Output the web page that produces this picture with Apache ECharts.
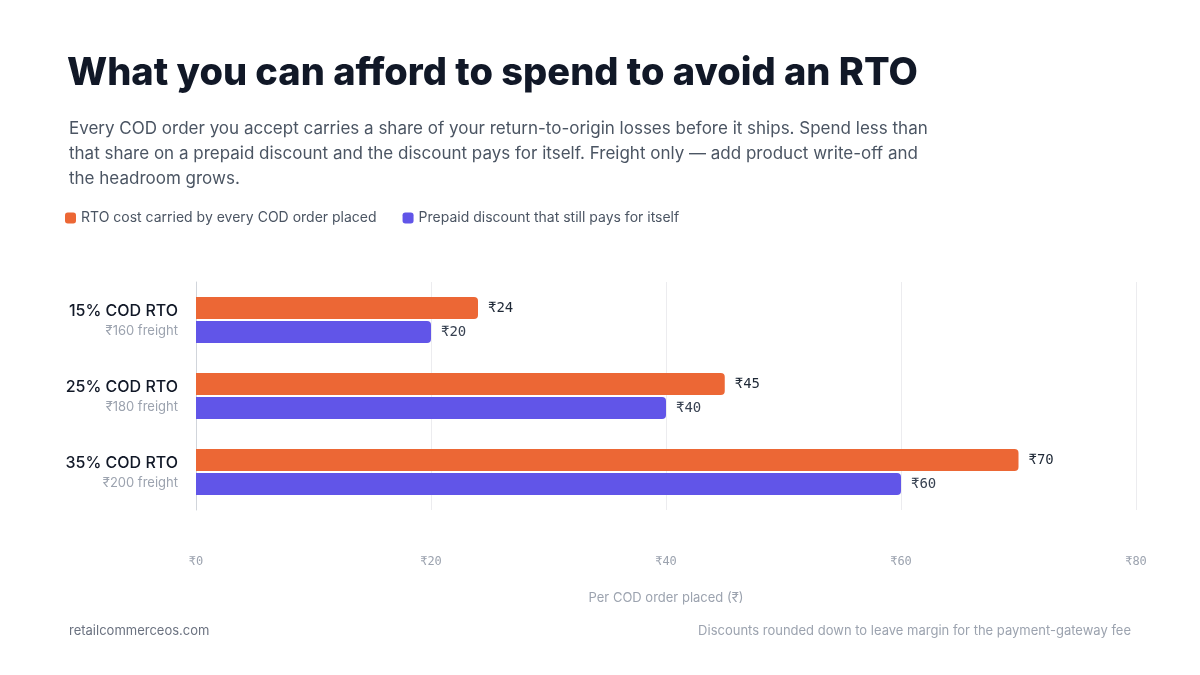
<!DOCTYPE html>
<html><head><meta charset="utf-8">
<script src="https://cdn.jsdelivr.net/npm/echarts@6.0.0/dist/echarts.min.js"></script>
<style>body{margin:0;background:#fff}#main{width:1200px;height:675px}</style>
</head><body><div id="main"></div>
<script>
var categories = ['15% COD RTO', '25% COD RTO', '35% COD RTO'];
var freight = ['₹160 freight', '₹180 freight', '₹200 freight'];
var rtoCost = [24, 45, 70];
var discount = [20, 40, 60];
var ticks = ['₹0', '₹20', '₹40', '₹60', '₹80'];

var chart = echarts.init(document.getElementById('main'));
var sans = 'Inter, "Noto Sans", sans-serif';
var mono = '"DejaVu Sans Mono", monospace';

var option = {
    backgroundColor: '#fff',
    animation: false,
    title: [{
        text: 'What you can afford to spend to avoid an RTO',
        left: 62, top: 50,
        textStyle: {fontFamily: sans, fontSize: 38, fontWeight: 800, color: '#111827'}
    }, {
        text: 'Every COD order you accept carries a share of your return-to-origin losses before it ships. Spend less than\nthat share on a prepaid discount and the discount pays for itself. Freight only — add product write-off and\nthe headroom grows.',
        left: 64, top: 111,
        textStyle: {fontFamily: sans, fontSize: 17, fontWeight: 400, color: '#4b5563', lineHeight: 25}
    }, {
        text: 'retailcommerceos.com',
        left: 64, top: 620,
        textStyle: {fontFamily: sans, fontSize: 13, fontWeight: 400, color: '#6b7280'}
    }, {
        text: 'Discounts rounded down to leave margin for the payment-gateway fee',
        right: 64, top: 620,
        textStyle: {fontFamily: sans, fontSize: 13, fontWeight: 400, color: '#9ca3af'}
    }],
    legend: {
        left: 60, top: 206,
        icon: 'roundRect', itemWidth: 11, itemHeight: 11, itemGap: 26,
        textStyle: {fontFamily: sans, fontSize: 14, color: '#4b5563'},
        data: ['RTO cost carried by every COD order placed', 'Prepaid discount that still pays for itself']
    },
    grid: {left: 196, right: 64, top: 282, bottom: 165},
    xAxis: {
        type: 'value', min: 0, max: 80, interval: 20,
        name: 'Per COD order placed (₹)', nameLocation: 'middle', nameGap: 82,
        nameTextStyle: {fontFamily: sans, fontSize: 13, color: '#9ca3af'},
        axisLine: {show: false}, axisTick: {show: false},
        axisLabel: {margin: 46, fontFamily: mono, fontSize: 12, color: '#9ca3af',
            formatter: function (v) { return ticks[v / 20]; }},
        splitLine: {lineStyle: {color: '#ececef', width: 1}}
    },
    yAxis: {
        type: 'category', inverse: true, data: categories,
        axisLine: {lineStyle: {color: '#d1d5db'}}, axisTick: {show: false},
        axisLabel: {
            margin: 18, align: 'right',
            formatter: function (v, i) { return '{a|' + v + '}\n{b|' + freight[i] + '}'; },
            rich: {
                a: {fontFamily: sans, fontSize: 16, fontWeight: 500, color: '#111827', align: 'right', lineHeight: 22},
                b: {fontFamily: sans, fontSize: 13, color: '#9ca3af', align: 'right', lineHeight: 18}
            }
        }
    },
    series: [{
        name: 'RTO cost carried by every COD order placed', type: 'bar',
        data: rtoCost, barWidth: 22, barGap: '10%',
        itemStyle: {color: '#ec6735', borderRadius: [0, 4, 4, 0]},
        label: {show: true, position: 'right', distance: 10, fontFamily: mono, fontSize: 14, color: '#1f2937',
            formatter: function (p) { return '₹' + p.value; }}
    }, {
        name: 'Prepaid discount that still pays for itself', type: 'bar',
        data: discount, barWidth: 22,
        itemStyle: {color: '#6155e8', borderRadius: [0, 4, 4, 0]},
        label: {show: true, position: 'right', distance: 10, fontFamily: mono, fontSize: 14, color: '#374151',
            formatter: function (p) { return '₹' + p.value; }}
    }]
};
chart.setOption(option);
window.onresize = function () { chart.resize(); };
</script></body></html>
